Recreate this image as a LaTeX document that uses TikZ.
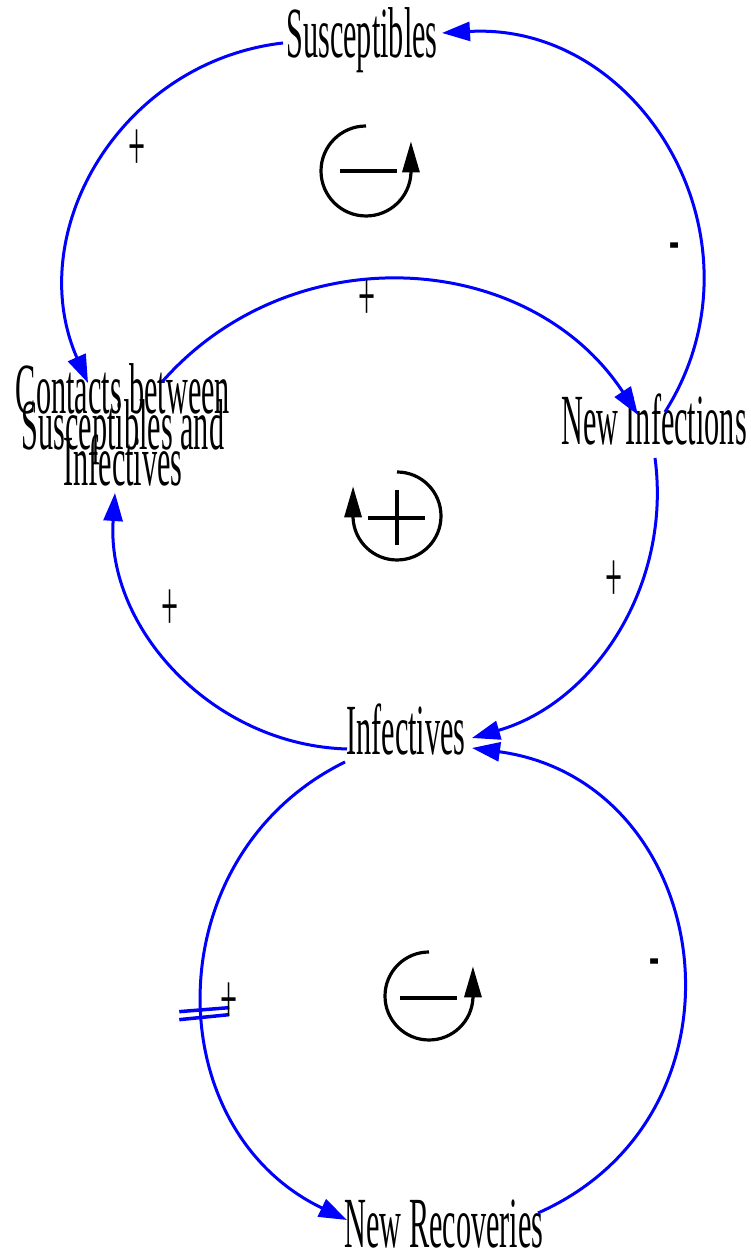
\documentclass[tikz,border=0pt]{standalone}
\usepackage{fontspec}
\setmainfont{Liberation Serif}[FakeStretch=0.42]
\usepackage{tikz}
\usetikzlibrary{arrows.meta}
\definecolor{linkblue}{HTML}{0000FF}
\newcommand{\varfont}{\fontsize{72}{36}\selectfont\lineskiplimit=-100pt\relax}

\tikzset{
  var/.style={inner sep=1pt, align=center, font=\varfont},
  link/.style={draw=linkblue, line width=3pt, -{Triangle[length=28pt,width=19pt]}},
  sign/.style={anchor=base, inner sep=0pt, font=\varfont},
  loopline/.style={line width=3.2pt, -{Triangle[length=31pt,width=17pt]}},
  loopmark/.style={line width=3.8pt},
}

\begin{document}
\begin{tikzpicture}[x=1pt, y=1pt]
  \useasboundingbox (0,0) rectangle (750,1255);

  % variables
  \node[var, anchor=base] (sus) at (362,1197) {Susceptibles};
  \node[var] (cont) at (123,830) {Contacts between\\Susceptibles and\\Infectives};
  \node[var, anchor=base] (newinf) at (654,810) {New Infections};
  \node[var, anchor=base] (inf) at (406,500) {Infectives};
  \node[var, anchor=base] (newrec) at (444,7) {New Recoveries};

  % causal links
  \draw[link] ([shift={(-79,15)}]sus.base) to[out=186.6, in=113.7, looseness=1.07]
    ([shift={(-35,42)}]cont.center);
  \draw[link] ([shift={(11,33)}]newinf.base) to[out=57.7, in=3.2, looseness=1.17]
    ([shift={(80,25)}]sus.base);
  \draw[link] ([shift={(39,43)}]cont.center) to[out=48.7, in=123.3, looseness=1.06]
    ([shift={(-16,30)}]newinf.base);
  \draw[link] ([shift={(1,-13)}]newinf.base) to[out=-82.4, in=16.1, looseness=0.98]
    ([shift={(66,17)}]inf.base);
  \draw[link] ([shift={(-59,6)}]inf.base) to[out=178.3, in=266.1, looseness=1.0]
    ([shift={(-8,-68)}]cont.center);
  \draw[link] ([shift={(-61,-7)}]inf.base) to[out=206.2, in=154.4, looseness=1.18]
    coordinate[pos=0.54] (dly) ([shift={(-97,28)}]newrec.base);
  \draw[link] ([shift={(94,35)}]newrec.base) to[out=23.9, in=352.2, looseness=1.34]
    ([shift={(66,7)}]inf.base);

  % delay
  \draw[linkblue, line width=3.5pt] ([shift={(-25,2)}]dly) -- ([shift={(25,6)}]dly);
  \draw[linkblue, line width=3.5pt] ([shift={(-25,-6)}]dly) -- ([shift={(25,-1)}]dly);

  % polarities
  \node[sign] (s1) at (137,1084) {+};
  \node[sign] (s2) at (675,992) {-};
  \node[sign] (s3) at (367,934) {+};
  \node[sign] (s4) at (614,653) {+};
  \node[sign] (s5) at (170,624) {+};
  \node[sign] (s6) at (229,231) {+};
  \node[sign] (s7) at (655,276) {-};

  % loop markers
  \coordinate (loopA) at (366,1084);
  \coordinate (loopB) at (397,739);
  \coordinate (loopC) at (429,259);
  \draw[loopline] (loopA) ++(0,45) arc[start angle=90, end angle=357, radius=45] -- ++(0,32);
  \draw[loopmark] ([xshift=-26pt]loopA) -- ([xshift=31pt]loopA);
  \draw[loopline] (loopB) ++(0,44) arc[start angle=90, end angle=-177, radius=44] -- ++(0,32);
  \draw[loopmark] ([xshift=-29pt,yshift=-2pt]loopB) -- ([xshift=28pt,yshift=-2pt]loopB);
  \draw[loopmark] ([yshift=26pt]loopB) -- ([yshift=-29pt]loopB);
  \draw[loopline] (loopC) ++(0,44) arc[start angle=90, end angle=357, radius=44] -- ++(0,32);
  \draw[loopmark] ([xshift=-29pt,yshift=-2pt]loopC) -- ([xshift=28pt,yshift=-2pt]loopC);
\end{tikzpicture}
\end{document}
